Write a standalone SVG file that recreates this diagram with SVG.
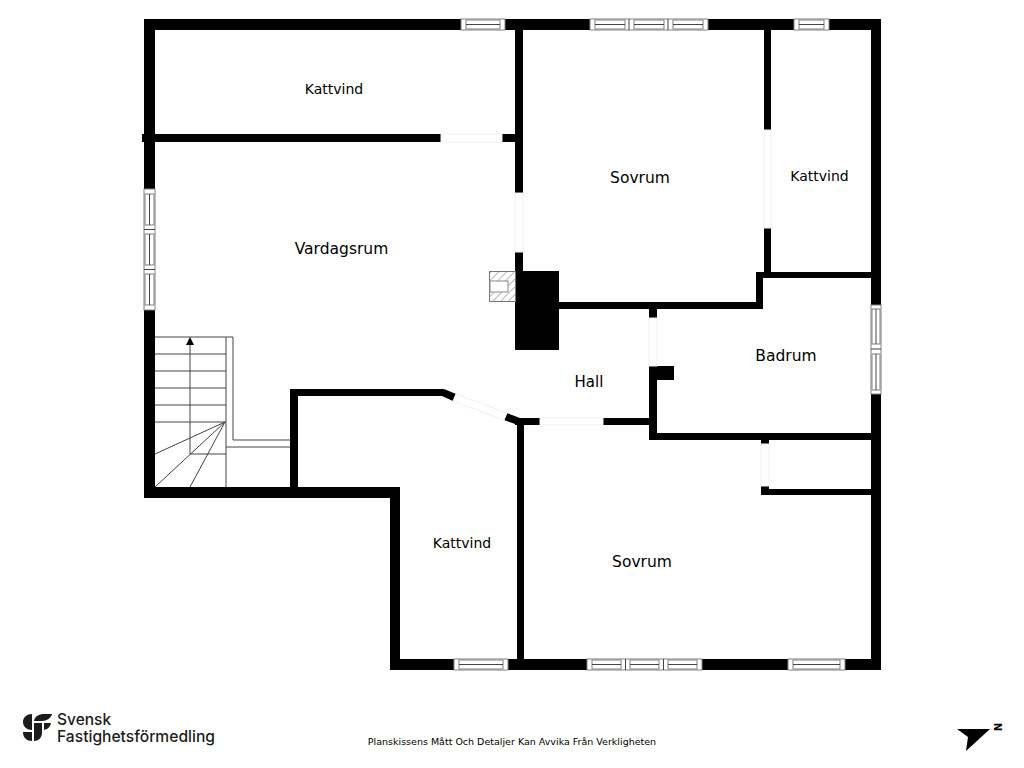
<svg xmlns="http://www.w3.org/2000/svg" width="1024" height="768" viewBox="0 0 1024 768">
<style>
.w{fill:#000}
.l{font-family:"DejaVu Sans",sans-serif;fill:#000;text-anchor:middle}
.g{fill:#fff;stroke:#808080;stroke-width:1}
.t{stroke:#444;stroke-width:1;fill:none}
.d{fill:#fff;stroke:#f0f0f0;stroke-width:1}
.lg{font-family:"Inter",sans-serif;fill:#1c1c1c;font-weight:500}
</style>
<defs>
<pattern id="hatch" width="5.5" height="5.5" patternUnits="userSpaceOnUse" patternTransform="rotate(45)">
<line x1="0" y1="0" x2="0" y2="5.5" stroke="#555" stroke-width="0.8"/>
</pattern>
</defs>
<rect width="1024" height="768" fill="#fff"/>
<g id="walls">
<rect class="w" x="144" y="19" width="737" height="11"/>
<rect class="w" x="144" y="19" width="11" height="479"/>
<rect class="w" x="871" y="19" width="10" height="651"/>
<rect class="w" x="144" y="487" width="256" height="11"/>
<rect class="w" x="390" y="487" width="10" height="183"/>
<rect class="w" x="390" y="659" width="491" height="11"/>
<rect class="w" x="142" y="134" width="299" height="8"/>
<rect class="w" x="502" y="134" width="17" height="8"/>
<rect class="w" x="515" y="30" width="8" height="163"/>
<rect class="w" x="515" y="252" width="8" height="20"/>
<rect class="w" x="515" y="271" width="44" height="79"/>
<rect class="w" x="559" y="302" width="203" height="7"/>
<rect class="w" x="756" y="272" width="7" height="37"/>
<rect class="w" x="756" y="272" width="115" height="6"/>
<rect class="w" x="764" y="30" width="7" height="100"/>
<rect class="w" x="764" y="228" width="7" height="44"/>
<rect class="w" x="649" y="309" width="8" height="9"/>
<rect class="w" x="649" y="366" width="25" height="14"/>
<rect class="w" x="649" y="366" width="8" height="74"/>
<rect class="w" x="649" y="433" width="222" height="7"/>
<rect class="w" x="761" y="440" width="8" height="4"/>
<rect class="w" x="761" y="486" width="8" height="9"/>
<rect class="w" x="761" y="489" width="110" height="6"/>
<rect class="w" x="515" y="418" width="25" height="7"/>
<rect class="w" x="603" y="418" width="46" height="7"/>
<rect class="w" x="517" y="420" width="7" height="239"/>
<rect class="w" x="290" y="389" width="154" height="7"/>
<rect class="w" x="290" y="389" width="8" height="100"/>
<polygon class="w" points="444,389 456,394 453,401 442,396"/>
<polygon class="w" points="507,413 520,418 518,425 504,420"/>
</g>
<g id="doors">
<rect class="d" x="441" y="134" width="61" height="8"/>
<rect class="d" x="515" y="193" width="8" height="59"/>
<rect class="d" x="764" y="130" width="7" height="98"/>
<rect class="d" x="649" y="318" width="8" height="48"/>
<rect class="d" x="761" y="444" width="8" height="42"/>
<rect class="d" x="540" y="418" width="63" height="7"/>
<polygon class="d" points="456,394 507,413 504,420 453,401"/>
</g>
<g id="windows">
<g id="win-top-1"><rect class="g" x="461" y="19" width="44" height="11"/><rect class="g" x="466" y="20" width="34" height="9"/><line class="t" x1="466" y1="24.500" x2="500" y2="24.500"/></g>
<g id="win-top-2"><rect class="g" x="590" y="19" width="118" height="11"/><rect class="g" x="595" y="20" width="30" height="9"/><rect class="g" x="634" y="20" width="30" height="9"/><rect class="g" x="673" y="20" width="30" height="9"/><line class="t" x1="595" y1="24.500" x2="625" y2="24.500"/><line class="t" x1="634" y1="24.500" x2="664" y2="24.500"/><line class="t" x1="673" y1="24.500" x2="703" y2="24.500"/><line class="t" x1="629" y1="19" x2="629" y2="30"/><line class="t" x1="668" y1="19" x2="668" y2="30"/></g>
<g id="win-top-3"><rect class="g" x="794" y="19" width="35" height="11"/><rect class="g" x="799" y="20" width="25" height="9"/><line class="t" x1="799" y1="24.500" x2="824" y2="24.500"/></g>
<g id="win-bot-1"><rect class="g" x="454" y="659" width="54" height="11"/><rect class="g" x="459" y="660" width="44" height="9"/><line class="t" x1="459" y1="664.500" x2="503" y2="664.500"/></g>
<g id="win-bot-2"><rect class="g" x="587" y="659" width="115" height="11"/><rect class="g" x="592" y="660" width="29" height="9"/><rect class="g" x="630" y="660" width="29" height="9"/><rect class="g" x="668" y="660" width="29" height="9"/><line class="t" x1="592" y1="664.500" x2="621" y2="664.500"/><line class="t" x1="630" y1="664.500" x2="659" y2="664.500"/><line class="t" x1="668" y1="664.500" x2="697" y2="664.500"/><line class="t" x1="625.500" y1="659" x2="625.500" y2="670"/><line class="t" x1="663.500" y1="659" x2="663.500" y2="670"/></g>
<g id="win-bot-3"><rect class="g" x="788" y="659" width="57" height="11"/><rect class="g" x="793" y="660" width="47" height="9"/><line class="t" x1="793" y1="664.500" x2="840" y2="664.500"/></g>
<g id="win-left"><rect class="g" x="144" y="189" width="11" height="121"/><rect class="g" x="145" y="194" width="9" height="31"/><rect class="g" x="145" y="234" width="9" height="31"/><rect class="g" x="145" y="274" width="9" height="31"/><line class="t" x1="149.500" y1="194" x2="149.500" y2="225"/><line class="t" x1="149.500" y1="234" x2="149.500" y2="265"/><line class="t" x1="149.500" y1="274" x2="149.500" y2="305"/><line class="t" x1="144" y1="229.500" x2="155" y2="229.500"/><line class="t" x1="144" y1="269.500" x2="155" y2="269.500"/></g>
<g id="win-right"><rect class="g" x="871" y="305" width="10" height="89"/><rect class="g" x="872" y="309" width="8" height="35"/><rect class="g" x="872" y="354" width="8" height="36"/><line class="t" x1="876" y1="309" x2="876" y2="344"/><line class="t" x1="876" y1="354" x2="876" y2="390"/><line class="t" x1="871" y1="349" x2="881" y2="349"/></g>
</g>
<g id="chimney">
<rect x="489.500" y="271.500" width="26" height="30" fill="url(#hatch)" stroke="#777"/>
<rect x="490" y="281" width="18" height="11" fill="#fff" stroke="#888"/>
</g>
<g id="stairs" class="t">
<path d="M155 337H233M155 354H226M155 371H226M155 388H226M155 405H226M155 422H226"/>
<path d="M226 337V487M233 337V440H290M226 447H290M190 454H226M190 454V345"/>
<path d="M225 422L155 454M225 422L155 487M225 422L190 487"/>
<polygon points="190,337 186,345 194,345" fill="#000" stroke="none"/>
</g>
<g id="labels">
<text class="l" x="334" y="94" font-size="14">Kattvind</text>
<text class="l" x="640" y="182.500" font-size="15.500">Sovrum</text>
<text class="l" x="819.500" y="181" font-size="14">Kattvind</text>
<text class="l" x="341.500" y="254" font-size="15.500">Vardagsrum</text>
<text class="l" x="786" y="361" font-size="15.500">Badrum</text>
<text class="l" x="589" y="387" font-size="15">Hall</text>
<text class="l" x="462" y="548" font-size="14">Kattvind</text>
<text class="l" x="642" y="567" font-size="15.500">Sovrum</text>
<text class="l" x="512" y="745" font-size="9.500">Planskissens Mått Och Detaljer Kan Avvika Från Verkligheten</text>
</g>
<g id="logo">
<path fill="#1c1c1c" d="M32 714V730C26 730 23 726 23 722C23 717 27 714 32 714ZM34 721C35 716 39 714 44 714H52C51 718 47 721 42 721ZM34 723H42V733C42 738 38 741 34 741ZM44 723H51C50 727 48 729 44 730ZM23 732H32V741C27 741 23 738 23 732Z"/>
<text class="lg" font-size="15.500"><tspan x="57" y="725">Svensk</tspan><tspan x="57" y="742" font-size="16" textLength="158" lengthAdjust="spacingAndGlyphs">Fastighetsförmedling</tspan></text>
</g>
<g id="north">
<polygon points="957,729 990,729 966,751 968,737" fill="#000"/>
<text x="997" y="730" font-family="DejaVu Sans,sans-serif" font-size="10" font-weight="bold" text-anchor="middle" transform="rotate(90 997 727)">N</text>
</g>
</svg>
